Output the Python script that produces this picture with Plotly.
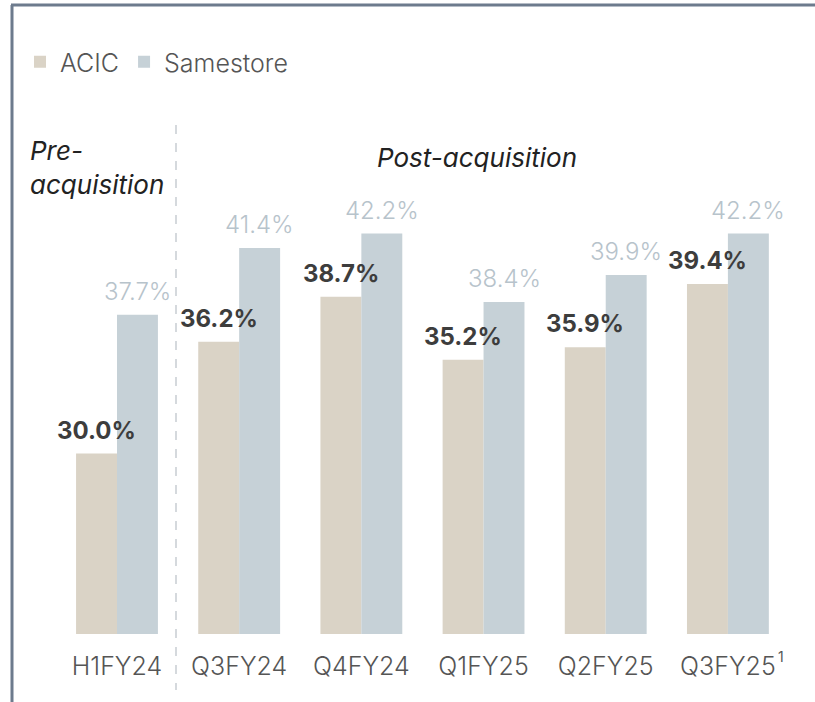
import plotly.graph_objects as go

categories = ["H1FY24", "Q3FY24", "Q4FY24", "Q1FY25", "Q2FY25", "Q3FY25"]
acic = [30.0, 36.2, 38.7, 35.2, 35.9, 39.4]
samestore = [37.7, 41.4, 42.2, 38.4, 39.9, 42.2]

W, H = 815, 702
L, R, T, B = 55, 26, 183, 68
pw, ph = W - L - R, H - T - B
BARGAP = 0.33
half_bar_px = (1 - BARGAP) / 4 * pw / len(categories)

def px_x(x):
    return (x - L) / pw

def px_y(y):
    return (H - B - y) / ph

FONT = "Inter"

fig = go.Figure()
fig.add_trace(go.Bar(
    name="ACIC", x=categories, y=acic,
    marker=dict(color="#dad3c6", line=dict(width=0)),
))
fig.add_trace(go.Bar(
    name="Samestore", x=categories, y=samestore,
    marker=dict(color="#c6d1d7", line=dict(width=0)),
))

# value labels as annotations (kept above all bars)
for c, v in zip(categories, acic):
    fig.add_annotation(x=c, y=v, xref="x", yref="y", text=f"{v:.1f}%",
                       showarrow=False, xshift=-half_bar_px, yshift=7,
                       xanchor="center", yanchor="bottom",
                       font=dict(family=FONT, size=24, color="#3d3d3d", weight=700))
for c, v in zip(categories, samestore):
    fig.add_annotation(x=c, y=v, xref="x", yref="y", text=f"{v:.1f}%",
                       showarrow=False, xshift=half_bar_px, yshift=7,
                       xanchor="center", yanchor="bottom",
                       font=dict(family=FONT, size=24, color="#b7c3cb", weight=300))

fig.update_layout(
    width=W, height=H,
    margin=dict(l=L, r=R, t=T, b=B),
    paper_bgcolor="white", plot_bgcolor="white",
    barmode="group", bargap=BARGAP, bargroupgap=0,
    font=dict(family=FONT, color="#555555"),
    showlegend=True,
    legend=dict(orientation="h", x=px_x(20), y=px_y(62), xanchor="left", yanchor="middle",
                font=dict(family=FONT, size=25, color="#555555", weight=300),
                itemwidth=30, bgcolor="rgba(0,0,0,0)"),
    xaxis=dict(showgrid=False, showline=False, zeroline=False, ticks="",
               ticklabelstandoff=15,
               tickfont=dict(family=FONT, size=25, color="#555555", weight=300)),
    yaxis=dict(range=[20, 45], visible=False, showgrid=False, zeroline=False),
)

# frame
line_col = "#6d7b8d"
fig.add_shape(type="line", xref="paper", yref="paper",
              x0=px_x(11), x1=px_x(815), y0=px_y(5), y1=px_y(5),
              line=dict(color=line_col, width=3))
fig.add_shape(type="line", xref="paper", yref="paper",
              x0=px_x(12), x1=px_x(12), y0=px_y(5), y1=px_y(702),
              line=dict(color=line_col, width=3))

# divider
fig.add_shape(type="line", xref="paper", yref="paper",
              x0=px_x(176), x1=px_x(176), y0=px_y(125), y1=px_y(690),
              line=dict(color="#c8cdd2", width=1.5, dash="dash"))

fig.add_annotation(xref="paper", yref="paper", x=px_x(28), y=px_y(167),
                   text="<i>Pre-<br>acquisition</i>", showarrow=False,
                   xanchor="left", yanchor="middle", align="left",
                   font=dict(family=FONT, size=26, color="#222222"))
fig.add_annotation(xref="paper", yref="paper", x=px_x(477), y=px_y(157),
                   text="<i>Post-acquisition</i>", showarrow=False,
                   xanchor="center", yanchor="middle",
                   font=dict(family=FONT, size=26, color="#222222"))
fig.add_annotation(xref="paper", yref="paper", x=px_x(776), y=px_y(656),
                   text="1", showarrow=False, xanchor="left", yanchor="middle",
                   font=dict(family=FONT, size=14, color="#555555"))

fig.write_html("out.html", config={"displayModeBar": False},
               post_script="document.body.style.margin='0';")
